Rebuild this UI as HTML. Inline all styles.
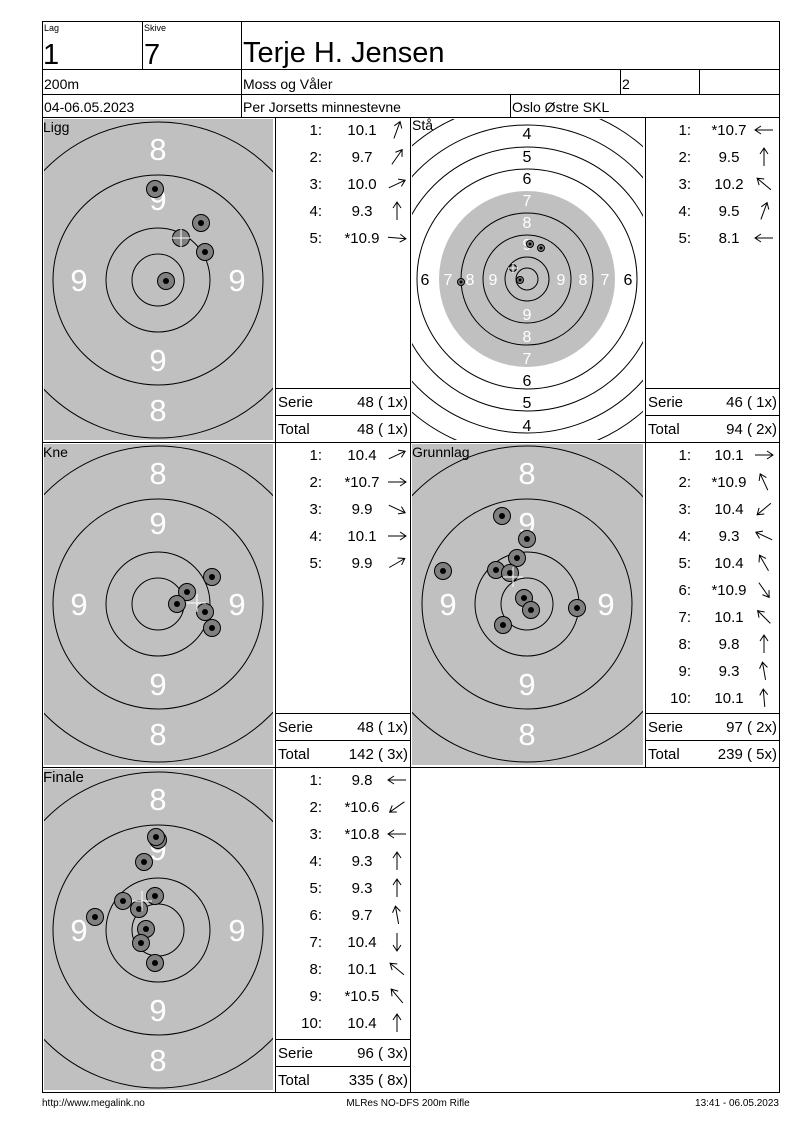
<!DOCTYPE html>
<html><head><meta charset="utf-8"><style>
html,body{margin:0;padding:0;background:#fff;}
svg{display:block;font-family:"Liberation Sans",Arial,sans-serif;}
.t{font-size:15px;fill:#000}
.w{font-size:31px;fill:#fff;text-anchor:middle}
.ws{font-size:16px;fill:#fff;text-anchor:middle}
.bs{font-size:16px;fill:#000;text-anchor:middle}
.n{text-anchor:end}
.v{text-anchor:middle}
</style></head><body>
<svg width="800" height="1130" viewBox="0 0 800 1130" xmlns="http://www.w3.org/2000/svg">
<defs>
<path id="ar" d="M-9,0 H9 M3,-4 L9,0 L3,4" fill="none" stroke="#000" stroke-width="1"/>
<clipPath id="c1"><rect x="44" y="119" width="229" height="321"/></clipPath>
<clipPath id="c2"><rect x="412" y="119" width="231" height="321"/></clipPath>
<clipPath id="c3"><rect x="44" y="444" width="229" height="321"/></clipPath>
<clipPath id="c4"><rect x="412" y="444" width="231" height="321"/></clipPath>
<clipPath id="c5"><rect x="44" y="769" width="229" height="321"/></clipPath>
</defs>

<g stroke="#000" stroke-width="1" fill="none" shape-rendering="crispEdges">
<rect x="42.5" y="21.5" width="737" height="1071"/>
<line x1="42" y1="69.5" x2="780" y2="69.5"/>
<line x1="42" y1="94.5" x2="780" y2="94.5"/>
<line x1="42" y1="117.5" x2="780" y2="117.5"/>
<line x1="42" y1="442.5" x2="780" y2="442.5"/>
<line x1="42" y1="767.5" x2="780" y2="767.5"/>
<line x1="142.5" y1="21" x2="142.5" y2="69"/>
<line x1="241.5" y1="21" x2="241.5" y2="117"/>
<line x1="620.5" y1="69" x2="620.5" y2="94"/>
<line x1="699.5" y1="69" x2="699.5" y2="94"/>
<line x1="510.5" y1="94" x2="510.5" y2="117"/>
<line x1="275.5" y1="117" x2="275.5" y2="1092"/>
<line x1="410.5" y1="117" x2="410.5" y2="1092"/>
<line x1="645.5" y1="117" x2="645.5" y2="767"/>
<line x1="275" y1="388.5" x2="410" y2="388.5"/>
<line x1="275" y1="415.5" x2="410" y2="415.5"/>
<line x1="645" y1="388.5" x2="780" y2="388.5"/>
<line x1="645" y1="415.5" x2="780" y2="415.5"/>
<line x1="275" y1="713.5" x2="410" y2="713.5"/>
<line x1="275" y1="740.5" x2="410" y2="740.5"/>
<line x1="645" y1="713.5" x2="780" y2="713.5"/>
<line x1="645" y1="740.5" x2="780" y2="740.5"/>
<line x1="275" y1="1039.5" x2="410" y2="1039.5"/>
<line x1="275" y1="1066.5" x2="410" y2="1066.5"/>
</g>

<text x="44" y="31" font-size="9">Lag</text>
<text x="144" y="31" font-size="9">Skive</text>
<text x="43" y="64" font-size="29">1</text>
<text x="144" y="64" font-size="29">7</text>
<text x="243" y="62" font-size="29">Terje H. Jensen</text>
<text x="44" y="89" font-size="14">200m</text>
<text x="243" y="89" font-size="14">Moss og Våler</text>
<text x="622" y="89" font-size="14">2</text>
<text x="44" y="112" font-size="14">04-06.05.2023</text>
<text x="243" y="112" font-size="14">Per Jorsetts minnestevne</text>
<text x="512" y="112" font-size="14">Oslo Østre SKL</text>

<g clip-path="url(#c1)">
<rect x="44" y="119" width="229" height="321" fill="#c0c0c0"/>
<g fill="none" stroke="#000"><circle cx="158" cy="280" r="26"/><circle cx="158" cy="280" r="52"/><circle cx="158" cy="280" r="105"/><circle cx="158" cy="280" r="158"/></g>
<text class="w" x="158" y="160">8</text><text class="w" x="158" y="210">9</text><text class="w" x="158" y="371">9</text><text class="w" x="158" y="421">8</text>
<text class="w" x="79" y="291">9</text><text class="w" x="237" y="291">9</text>
<g fill="#808080" stroke="#000"><circle cx="155" cy="189" r="8.5"/><circle cx="201" cy="223" r="8.5"/><circle cx="205" cy="252" r="8.5"/><circle cx="166" cy="281" r="8.5"/><circle cx="181" cy="238" r="8.5"/></g>
<g fill="#000"><circle cx="155" cy="189" r="3"/><circle cx="201" cy="223" r="3"/><circle cx="205" cy="252" r="3"/><circle cx="166" cy="281" r="3"/></g>
<g stroke="#fff"><line x1="172" y1="238" x2="190" y2="238"/><line x1="181" y1="229" x2="181" y2="247"/></g>
</g>
<text x="43" y="132" font-size="14">Ligg</text>

<g clip-path="url(#c2)">
<rect x="412" y="119" width="231" height="321" fill="#fff"/>
<circle cx="527" cy="279" r="88" fill="#c0c0c0"/>
<g fill="none" stroke="#000"><circle cx="527" cy="279" r="11"/><circle cx="527" cy="279" r="22"/><circle cx="527" cy="279" r="44"/><circle cx="527" cy="279" r="66"/><circle cx="527" cy="279" r="110"/><circle cx="527" cy="279" r="132"/><circle cx="527" cy="279" r="154"/><circle cx="527" cy="279" r="176"/></g>
<text class="bs" x="527" y="139">4</text><text class="bs" x="527" y="162">5</text><text class="bs" x="527" y="184">6</text>
<text class="ws" x="527" y="206">7</text><text class="ws" x="527" y="228">8</text><text class="ws" x="527" y="250">9</text>
<text class="ws" x="527" y="320">9</text><text class="ws" x="527" y="342">8</text><text class="ws" x="527" y="364">7</text>
<text class="bs" x="527" y="386">6</text><text class="bs" x="527" y="408">5</text><text class="bs" x="527" y="431">4</text>
<text class="bs" x="425" y="285">6</text><text class="ws" x="448" y="285">7</text><text class="ws" x="470" y="285">8</text><text class="ws" x="493" y="285">9</text>
<text class="ws" x="561" y="285">9</text><text class="ws" x="583" y="285">8</text><text class="ws" x="605" y="285">7</text><text class="bs" x="628" y="285">6</text>
<g fill="#808080" stroke="#000"><circle cx="530" cy="244" r="3.5"/><circle cx="541" cy="248" r="3.5"/><circle cx="520" cy="280" r="3.5"/><circle cx="461" cy="282" r="3.5"/><circle cx="513" cy="268" r="3.5"/></g>
<g fill="#000"><circle cx="530" cy="244" r="1.5"/><circle cx="541" cy="248" r="1.5"/><circle cx="520" cy="280" r="1.5"/><circle cx="461" cy="282" r="1.5"/></g>
<g stroke="#fff"><line x1="508" y1="268" x2="518" y2="268"/><line x1="513" y1="263" x2="513" y2="273"/></g>
</g>
<text x="412" y="130" font-size="14">Stå</text>

<g clip-path="url(#c3)">
<rect x="44" y="444" width="229" height="321" fill="#c0c0c0"/>
<g fill="none" stroke="#000"><circle cx="158" cy="604" r="26"/><circle cx="158" cy="604" r="52"/><circle cx="158" cy="604" r="105"/><circle cx="158" cy="604" r="158"/></g>
<text class="w" x="158" y="484">8</text><text class="w" x="158" y="534">9</text><text class="w" x="158" y="695">9</text><text class="w" x="158" y="745">8</text>
<text class="w" x="79" y="615">9</text><text class="w" x="237" y="615">9</text>
<g fill="#808080" stroke="#000"><circle cx="212" cy="577" r="8.5"/><circle cx="187" cy="592" r="8.5"/><circle cx="177" cy="604" r="8.5"/><circle cx="205" cy="612" r="8.5"/><circle cx="212" cy="628" r="8.5"/></g>
<g fill="#000"><circle cx="212" cy="577" r="3"/><circle cx="187" cy="592" r="3"/><circle cx="177" cy="604" r="3"/><circle cx="205" cy="612" r="3"/><circle cx="212" cy="628" r="3"/></g>
<g stroke="#fff"><line x1="187" y1="603" x2="206" y2="603"/><line x1="197" y1="594" x2="197" y2="612"/></g>
</g>
<text x="43" y="457" font-size="14">Kne</text>

<g clip-path="url(#c4)">
<rect x="412" y="444" width="231" height="321" fill="#c0c0c0"/>
<g fill="none" stroke="#000"><circle cx="527" cy="604" r="26"/><circle cx="527" cy="604" r="52"/><circle cx="527" cy="604" r="105"/><circle cx="527" cy="604" r="158"/></g>
<text class="w" x="527" y="484">8</text><text class="w" x="527" y="534">9</text><text class="w" x="527" y="695">9</text><text class="w" x="527" y="745">8</text>
<text class="w" x="448" y="615">9</text><text class="w" x="606" y="615">9</text>
<g fill="#808080" stroke="#000"><circle cx="502" cy="516" r="8.5"/><circle cx="527" cy="539" r="8.5"/><circle cx="517" cy="558" r="8.5"/><circle cx="496" cy="570" r="8.5"/><circle cx="443" cy="571" r="8.5"/><circle cx="510" cy="573" r="8.5"/><circle cx="524" cy="598" r="8.5"/><circle cx="531" cy="610" r="8.5"/><circle cx="577" cy="608" r="8.5"/><circle cx="503" cy="625" r="8.5"/></g>
<g fill="#000"><circle cx="502" cy="516" r="3"/><circle cx="527" cy="539" r="3"/><circle cx="517" cy="558" r="3"/><circle cx="496" cy="570" r="3"/><circle cx="443" cy="571" r="3"/><circle cx="510" cy="573" r="3"/><circle cx="524" cy="598" r="3"/><circle cx="531" cy="610" r="3"/><circle cx="577" cy="608" r="3"/><circle cx="503" cy="625" r="3"/></g>
<g stroke="#fff"><line x1="503" y1="577" x2="523" y2="577"/><line x1="513" y1="567" x2="513" y2="587"/></g>
</g>
<text x="412" y="457" font-size="14">Grunnlag</text>

<g clip-path="url(#c5)">
<rect x="44" y="769" width="229" height="321" fill="#c0c0c0"/>
<g fill="none" stroke="#000"><circle cx="158" cy="930" r="26"/><circle cx="158" cy="930" r="52"/><circle cx="158" cy="930" r="105"/><circle cx="158" cy="930" r="158"/></g>
<text class="w" x="158" y="810">8</text><text class="w" x="158" y="860">9</text><text class="w" x="158" y="1021">9</text><text class="w" x="158" y="1071">8</text>
<text class="w" x="79" y="941">9</text><text class="w" x="237" y="941">9</text>
<g fill="#808080" stroke="#000"><circle cx="158" cy="840" r="8.5"/><circle cx="156" cy="837" r="8.5"/><circle cx="144" cy="862" r="8.5"/><circle cx="155" cy="896" r="8.5"/><circle cx="123" cy="901" r="8.5"/><circle cx="139" cy="909" r="8.5"/><circle cx="95" cy="917" r="8.5"/><circle cx="146" cy="929" r="8.5"/><circle cx="141" cy="943" r="8.5"/><circle cx="155" cy="963" r="8.5"/></g>
<g fill="#000"><circle cx="156" cy="837" r="3"/><circle cx="144" cy="862" r="3"/><circle cx="155" cy="896" r="3"/><circle cx="123" cy="901" r="3"/><circle cx="139" cy="909" r="3"/><circle cx="95" cy="917" r="3"/><circle cx="146" cy="929" r="3"/><circle cx="141" cy="943" r="3"/><circle cx="155" cy="963" r="3"/></g>
<g stroke="#fff"><line x1="132" y1="901" x2="152" y2="901"/><line x1="142" y1="891" x2="142" y2="911"/></g>
</g>
<text x="43" y="782" font-size="15">Finale</text>

<g class="t">
<text class="n" x="322" y="135">1:</text><text class="v" x="362" y="135">10.1</text>
<text class="n" x="322" y="162">2:</text><text class="v" x="362" y="162">9.7</text>
<text class="n" x="322" y="189">3:</text><text class="v" x="362" y="189">10.0</text>
<text class="n" x="322" y="216">4:</text><text class="v" x="362" y="216">9.3</text>
<text class="n" x="322" y="243">5:</text><text class="v" x="362" y="243">*10.9</text>
<text x="278" y="407">Serie</text><text class="n" x="408" y="407">48 ( 1x)</text>
<text x="278" y="434">Total</text><text class="n" x="408" y="434">48 ( 1x)</text>
</g>
<use href="#ar" transform="translate(397,130) rotate(-70)"/>
<use href="#ar" transform="translate(397,157) rotate(-55)"/>
<use href="#ar" transform="translate(397,184) rotate(-25)"/>
<use href="#ar" transform="translate(397,211) rotate(-90)"/>
<use href="#ar" transform="translate(397,238) rotate(5)"/>

<g class="t">
<text class="n" x="691" y="135">1:</text><text class="v" x="729" y="135">*10.7</text>
<text class="n" x="691" y="162">2:</text><text class="v" x="729" y="162">9.5</text>
<text class="n" x="691" y="189">3:</text><text class="v" x="729" y="189">10.2</text>
<text class="n" x="691" y="216">4:</text><text class="v" x="729" y="216">9.5</text>
<text class="n" x="691" y="243">5:</text><text class="v" x="729" y="243">8.1</text>
<text x="648" y="407">Serie</text><text class="n" x="777" y="407">46 ( 1x)</text>
<text x="648" y="434">Total</text><text class="n" x="777" y="434">94 ( 2x)</text>
</g>
<use href="#ar" transform="translate(764,130) rotate(180)"/>
<use href="#ar" transform="translate(764,157) rotate(-90)"/>
<use href="#ar" transform="translate(764,184) rotate(-140)"/>
<use href="#ar" transform="translate(764,211) rotate(-70)"/>
<use href="#ar" transform="translate(764,238) rotate(180)"/>

<g class="t">
<text class="n" x="322" y="460">1:</text><text class="v" x="362" y="460">10.4</text>
<text class="n" x="322" y="487">2:</text><text class="v" x="362" y="487">*10.7</text>
<text class="n" x="322" y="514">3:</text><text class="v" x="362" y="514">9.9</text>
<text class="n" x="322" y="541">4:</text><text class="v" x="362" y="541">10.1</text>
<text class="n" x="322" y="568">5:</text><text class="v" x="362" y="568">9.9</text>
<text x="278" y="732">Serie</text><text class="n" x="408" y="732">48 ( 1x)</text>
<text x="278" y="759">Total</text><text class="n" x="408" y="759">142 ( 3x)</text>
</g>
<use href="#ar" transform="translate(397,455) rotate(-25)"/>
<use href="#ar" transform="translate(397,482) rotate(0)"/>
<use href="#ar" transform="translate(397,509) rotate(25)"/>
<use href="#ar" transform="translate(397,536) rotate(0)"/>
<use href="#ar" transform="translate(397,563) rotate(-30)"/>

<g class="t">
<text class="n" x="691" y="460">1:</text><text class="v" x="729" y="460">10.1</text>
<text class="n" x="691" y="487">2:</text><text class="v" x="729" y="487">*10.9</text>
<text class="n" x="691" y="514">3:</text><text class="v" x="729" y="514">10.4</text>
<text class="n" x="691" y="541">4:</text><text class="v" x="729" y="541">9.3</text>
<text class="n" x="691" y="568">5:</text><text class="v" x="729" y="568">10.4</text>
<text class="n" x="691" y="595">6:</text><text class="v" x="729" y="595">*10.9</text>
<text class="n" x="691" y="622">7:</text><text class="v" x="729" y="622">10.1</text>
<text class="n" x="691" y="649">8:</text><text class="v" x="729" y="649">9.8</text>
<text class="n" x="691" y="676">9:</text><text class="v" x="729" y="676">9.3</text>
<text class="n" x="691" y="703">10:</text><text class="v" x="729" y="703">10.1</text>
<text x="648" y="732">Serie</text><text class="n" x="777" y="732">97 ( 2x)</text>
<text x="648" y="759">Total</text><text class="n" x="777" y="759">239 ( 5x)</text>
</g>
<use href="#ar" transform="translate(764,455) rotate(0)"/>
<use href="#ar" transform="translate(764,482) rotate(-115)"/>
<use href="#ar" transform="translate(764,509) rotate(140)"/>
<use href="#ar" transform="translate(764,536) rotate(-155)"/>
<use href="#ar" transform="translate(764,563) rotate(-120)"/>
<use href="#ar" transform="translate(764,590) rotate(55)"/>
<use href="#ar" transform="translate(764,617) rotate(-135)"/>
<use href="#ar" transform="translate(764,644) rotate(-90)"/>
<use href="#ar" transform="translate(764,671) rotate(-100)"/>
<use href="#ar" transform="translate(764,698) rotate(-95)"/>

<g class="t">
<text class="n" x="322" y="785">1:</text><text class="v" x="362" y="785">9.8</text>
<text class="n" x="322" y="812">2:</text><text class="v" x="362" y="812">*10.6</text>
<text class="n" x="322" y="839">3:</text><text class="v" x="362" y="839">*10.8</text>
<text class="n" x="322" y="866">4:</text><text class="v" x="362" y="866">9.3</text>
<text class="n" x="322" y="893">5:</text><text class="v" x="362" y="893">9.3</text>
<text class="n" x="322" y="920">6:</text><text class="v" x="362" y="920">9.7</text>
<text class="n" x="322" y="947">7:</text><text class="v" x="362" y="947">10.4</text>
<text class="n" x="322" y="974">8:</text><text class="v" x="362" y="974">10.1</text>
<text class="n" x="322" y="1001">9:</text><text class="v" x="362" y="1001">*10.5</text>
<text class="n" x="322" y="1028">10:</text><text class="v" x="362" y="1028">10.4</text>
<text x="278" y="1058">Serie</text><text class="n" x="408" y="1058">96 ( 3x)</text>
<text x="278" y="1085">Total</text><text class="n" x="408" y="1085">335 ( 8x)</text>
</g>
<use href="#ar" transform="translate(397,780) rotate(180)"/>
<use href="#ar" transform="translate(397,807) rotate(145)"/>
<use href="#ar" transform="translate(397,834) rotate(180)"/>
<use href="#ar" transform="translate(397,861) rotate(-90)"/>
<use href="#ar" transform="translate(397,888) rotate(-90)"/>
<use href="#ar" transform="translate(397,915) rotate(-100)"/>
<use href="#ar" transform="translate(397,942) rotate(90)"/>
<use href="#ar" transform="translate(397,969) rotate(-140)"/>
<use href="#ar" transform="translate(397,996) rotate(-130)"/>
<use href="#ar" transform="translate(397,1023) rotate(-90)"/>

<text x="42" y="1106" font-size="10">http://www.megalink.no</text>
<text x="408" y="1106" font-size="10" text-anchor="middle">MLRes NO-DFS 200m Rifle</text>
<text x="779" y="1106" font-size="10" text-anchor="end">13:41 - 06.05.2023</text>
</svg>
</body></html>
